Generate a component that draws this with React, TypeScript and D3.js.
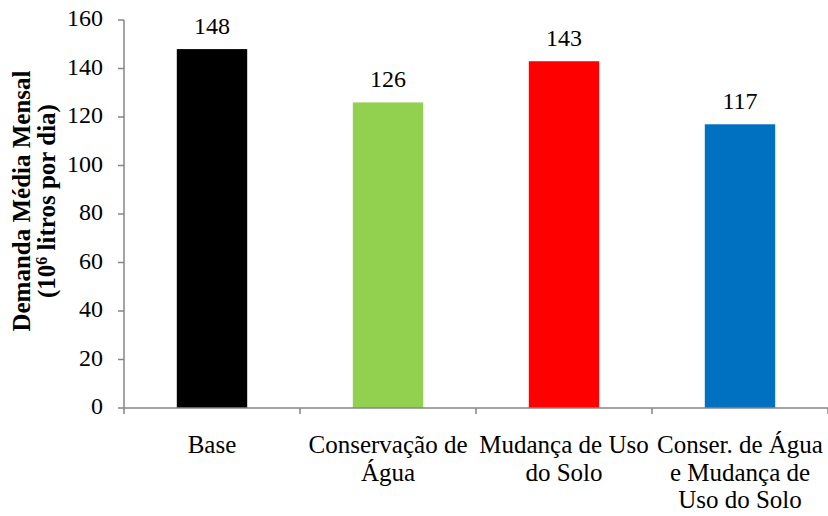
import React from "react";
import * as d3 from "d3";

const categories: string[][] = [
  ["Base"],
  ["Conservação de", "Água"],
  ["Mudança de Uso", "do Solo"],
  ["Conser. de Água", "e Mudança de", "Uso do Solo"],
];
const values: number[] = [148, 126, 143, 117];
const colors: string[] = ["#000000", "#92D050", "#FF0000", "#0070C0"];
const yTicks: number[] = [0, 20, 40, 60, 80, 100, 120, 140, 160];

const W = 828;
const H = 516;
const margin = { left: 124, right: 0, top: 20, bottom: 108 };
const axisColor = "#868686";
const font = "Liberation Serif, Times New Roman, DejaVu Serif, serif";
const textStyle: React.CSSProperties = { fontFamily: font };
const fs = 24;
const catFs = 25;
const titleFs = 25;

export default function App() {
  const x = d3
    .scaleBand<number>()
    .domain(values.map((_, i) => i))
    .range([margin.left, W - margin.right])
    .paddingInner(0.6)
    .paddingOuter(0.3);
  const y = d3.scaleLinear().domain([0, 160]).range([H - margin.bottom, margin.top]);
  const step = x.step();
  const y0 = y(0);

  return (
    <svg
      width={W}
      height={H}
      style={{ position: "absolute", left: 0, top: 0, background: "#fff", fontFamily: font }}
    >
      {/* bars */}
      {values.map((v, i) => (
        <rect
          key={i}
          x={x(i)}
          y={y(v)}
          width={x.bandwidth()}
          height={y0 - y(v)}
          fill={colors[i]}
        />
      ))}
      {/* value labels */}
      {values.map((v, i) => (
        <text
          key={i}
          x={(x(i) as number) + x.bandwidth() / 2}
          y={y(v) - 15}
          textAnchor="middle"
          fontSize={fs}
          fill="#000"
          style={textStyle}
        >
          {v}
        </text>
      ))}
      {/* y axis */}
      <line x1={margin.left} x2={margin.left} y1={y(160)} y2={y0} stroke={axisColor} strokeWidth={1.5} />
      {yTicks.map((t) => (
        <g key={t}>
          <line x1={margin.left - 6} x2={margin.left} y1={y(t)} y2={y(t)} stroke={axisColor} strokeWidth={1.5} />
          <text
            x={margin.left - 21}
            y={y(t) + 6}
            textAnchor="end"
            fontSize={fs}
            fill="#000"
            style={textStyle}
          >
            {t}
          </text>
        </g>
      ))}
      {/* x axis */}
      <line x1={margin.left} x2={W} y1={y0} y2={y0} stroke={axisColor} strokeWidth={1.5} />
      {d3.range(values.length + 1).map((i) => {
        const px = margin.left + i * step;
        return <line key={i} x1={px} x2={px} y1={y0} y2={y0 + 6} stroke={axisColor} strokeWidth={1.5} />;
      })}
      {categories.map((lines, i) => (
        <text key={i} textAnchor="middle" fontSize={catFs} fill="#000" style={textStyle}>
          {lines.map((l, j) => (
            <tspan key={j} x={(x(i) as number) + x.bandwidth() / 2} y={453 + j * 27.5}>
              {l}
            </tspan>
          ))}
        </text>
      ))}
      {/* y axis title */}
      <g transform={`translate(0, 201) rotate(-90)`}>
        <text textAnchor="middle" fontSize={titleFs} fontWeight="bold" fill="#000" style={textStyle}>
          <tspan x={0} y={30}>Demanda Média Mensal</tspan>
          <tspan x={0} y={55}>
            (10<tspan dy={-8} fontSize={16}>6</tspan>
            <tspan dy={8}> litros por dia)</tspan>
          </tspan>
        </text>
      </g>
    </svg>
  );
}
